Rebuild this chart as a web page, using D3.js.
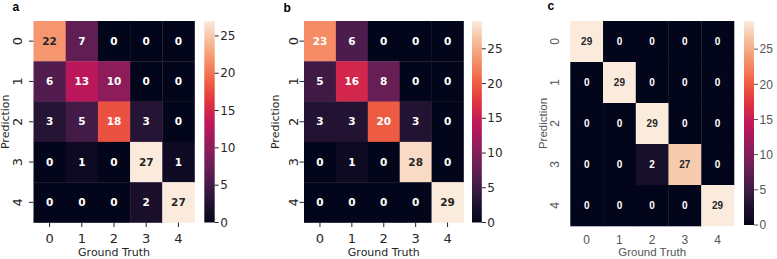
<!DOCTYPE html>
<html><head><meta charset="utf-8">
<script src="https://cdn.jsdelivr.net/npm/d3@7"></script>
<style>body{margin:0;background:#fff}svg{display:block}</style>
</head><body>
<svg id="chart" width="777" height="259"></svg>
<script>
const categories = ["0","1","2","3","4"];
const matrixA = [[22,7,0,0,0],[6,13,10,0,0],[3,5,18,3,0],[0,1,0,27,1],[0,0,0,2,27]];
const matrixB = [[23,6,0,0,0],[5,16,8,0,0],[3,3,20,3,0],[0,1,0,28,0],[0,0,0,0,29]];
const matrixC = [[29,0,0,0,0],[0,29,0,0,0],[0,0,29,0,0],[0,0,2,27,0],[0,0,0,0,29]];
const colorbarTicks = [0,5,10,15,20,25];
const panelLabels = ["a","b","c"];
const xTitle = "Ground Truth";
const yTitle = "Prediction";

// rocket colormap approximation
const rocketStops = ["#03051a","#221331","#491c4b","#711f57","#9a1b5c","#c1175a","#e1343f","#f06043","#f58f67","#f6bc98","#faebdd"];
const rocket = d3.scaleLinear().domain(d3.range(rocketStops.length).map(i=>i/(rocketStops.length-1))).range(rocketStops).interpolate(d3.interpolateRgb);

const svg = d3.select("#chart");

function lum(c){const r=d3.rgb(c);const f=v=>{v/=255;return v<=0.03928?v/12.92:Math.pow((v+0.055)/1.055,2.4)};return 0.2126*f(r.r)+0.7152*f(r.g)+0.0722*f(r.b);}

function panel(cfg){
  const {data,x0,y0,w,h,cbx,cbw,cbBottom,vmax,label,font,textColor,tickMarks,labelPos,ylabX,ytickX,xtickY,xtitleY} = cfg;
  const g = svg.append("g");
  const x = d3.scaleBand().domain(categories).range([x0,x0+w]);
  const y = d3.scaleBand().domain(categories).range([y0,y0+h]);
  const col = v=>rocket(v/vmax);
  data.forEach((row,i)=>row.forEach((v,j)=>{
    g.append("rect").attr("x",x(categories[j])).attr("y",y(categories[i]))
      .attr("width",x.bandwidth()+0.3).attr("height",y.bandwidth()+0.3).attr("fill",col(v));
    g.append("text").attr("x",x(categories[j])+x.bandwidth()/2).attr("y",y(categories[i])+y.bandwidth()/2)
      .attr("dy","0.35em").attr("text-anchor","middle").attr("font-family",font).attr("font-weight","bold")
      .attr("font-size",cfg.annSize).attr("fill",lum(col(v))>0.408?"#262626":"#ffffff").text(v);
  }));
  categories.forEach(c=>{
    const cx = x(c)+x.bandwidth()/2;
    if(tickMarks) g.append("line").attr("x1",cx).attr("x2",cx).attr("y1",y0+h).attr("y2",y0+h+4.5).attr("stroke",textColor).attr("stroke-width",1);
    g.append("text").attr("x",cx).attr("y",xtickY).attr("dy","0.35em").attr("text-anchor","middle")
      .attr("font-family",font).attr("font-size",cfg.tickSize).attr("fill",textColor).text(c);
    const cy = y(c)+y.bandwidth()/2;
    if(tickMarks) g.append("line").attr("x1",x0-4.5).attr("x2",x0).attr("y1",cy).attr("y2",cy).attr("stroke",textColor).attr("stroke-width",1);
    g.append("text").attr("transform",`translate(${ytickX},${cy}) rotate(-90)`).attr("dy","0.35em").attr("text-anchor","middle")
      .attr("font-family",font).attr("font-size",cfg.tickSize).attr("fill",textColor).text(c);
  });
  g.append("text").attr("x",x0+w/2).attr("y",xtitleY).attr("dy","0.35em").attr("text-anchor","middle")
    .attr("font-family",font).attr("font-size",cfg.titleSize).attr("fill",textColor).text(xTitle);
  g.append("text").attr("transform",`translate(${ylabX},${y0+h/2}) rotate(-90)`).attr("dy","0.35em").attr("text-anchor","middle")
    .attr("font-family",font).attr("font-size",cfg.titleSize).attr("fill",textColor).text(yTitle);
  const cs = d3.scaleLinear().domain([0,vmax]).range([cbBottom,y0]);
  const defs = svg.append("defs");
  const gid = "grad"+label;
  const lg = defs.append("linearGradient").attr("id",gid).attr("x1",0).attr("y1",1).attr("x2",0).attr("y2",0);
  d3.range(0,1.0001,0.05).forEach(t=>lg.append("stop").attr("offset",t).attr("stop-color",rocket(t)));
  g.append("rect").attr("x",cbx).attr("y",y0).attr("width",cbw).attr("height",cbBottom-y0).attr("fill",`url(#${gid})`);
  colorbarTicks.forEach(t=>{
    g.append("line").attr("x1",cbx+cbw).attr("x2",cbx+cbw+4).attr("y1",cs(t)).attr("y2",cs(t)).attr("stroke",textColor);
    g.append("text").attr("x",cbx+cbw+5.5).attr("y",cs(t)).attr("dy","0.35em").attr("font-family",font)
      .attr("font-size",cfg.cbSize).attr("fill",textColor).text(t);
  });
  g.append("text").attr("x",labelPos[0]).attr("y",labelPos[1]).attr("font-family","Liberation Sans, Arial, sans-serif")
    .attr("font-weight","bold").attr("font-size",12).attr("fill","#000").text(label);
}

const dv = "DejaVu Sans, sans-serif";
const ar = "Liberation Sans, Arial, sans-serif";
panel({data:matrixA,x0:33.5,y0:21,w:161,h:201.5,cbx:204.3,cbw:10.4,cbBottom:222.5,vmax:27,label:panelLabels[0],font:dv,textColor:"#262626",
  tickMarks:true,labelPos:[12.5,11],ylabX:5,ytickX:17,xtickY:238.5,xtitleY:252,annSize:10.5,tickSize:13,titleSize:11,cbSize:12});
panel({data:matrixB,x0:304,y0:21,w:159.5,h:201.5,cbx:472,cbw:9.8,cbBottom:222.5,vmax:29,label:panelLabels[1],font:dv,textColor:"#262626",
  tickMarks:true,labelPos:[283.5,12],ylabX:275.3,ytickX:293.7,xtickY:238.5,xtitleY:252,annSize:10.5,tickSize:13,titleSize:11,cbSize:12});
panel({data:matrixC,x0:570.3,y0:21,w:163.7,h:205,cbx:744,cbw:10,cbBottom:225,vmax:29,label:panelLabels[2],font:ar,textColor:"#555555",
  tickMarks:false,labelPos:[547.5,10],ylabX:543,ytickX:555,xtickY:239.5,xtitleY:252,annSize:10,tickSize:12,titleSize:11.5,cbSize:12});
</script>
</body></html>
